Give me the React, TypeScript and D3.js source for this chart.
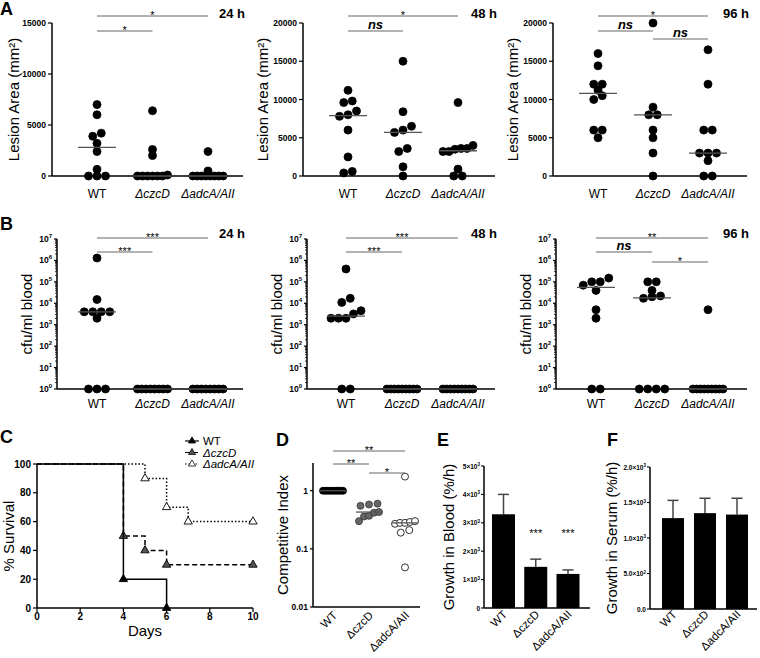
import React from 'react'
import * as d3 from 'd3'

const FONT = "'Liberation Sans', Arial, Helvetica, sans-serif"

const strains = ['WT', 'ΔczcD', 'ΔadcA/AII']

// A: lesion area (mm²) per mouse
const lesion24h = [
  [7000, 6000, 4200, 3900, 3200, 2400, 650, 0, 0, 0],
  [6400, 2600, 2000, 100, 0, 0, 0, 0, 0, 0],
  [2400, 500, 0, 0, 0, 0, 0, 0, 0, 0],
]
const lesion48h = [
  [11200, 9800, 9600, 8500, 8000, 7800, 6000, 2500, 600, 400],
  [15000, 8400, 6500, 6000, 5700, 3600, 3200, 1200, 0],
  [9600, 4000, 3600, 3600, 3500, 3200, 3200, 900, 0, 0],
]
const lesion96h = [
  [16000, 14400, 12000, 12000, 11200, 10500, 10000, 6000, 6000, 5000],
  [20000, 9000, 8000, 8000, 6000, 5000, 3000, 0],
  [16500, 12000, 6000, 6000, 3000, 3000, 3000, 2000, 0, 0],
]
const lesionMedian24h = [2800, 0, 0]
const lesionMedian48h = [7900, 5700, 3300]
const lesionMedian96h = [10800, 8000, 3000]
const lesionTicks15k = [0, 5000, 10000, 15000]
const lesionTicks20k = [0, 5000, 10000, 15000, 20000]

// B: cfu/ml blood
const blood24h = [
  [1.3e6, 1.5e4, 4e3, 4e3, 4e3, 4e3, 2e3, 1, 1, 1],
  [1, 1, 1, 1, 1, 1, 1, 1],
  [1, 1, 1, 1, 1, 1, 1, 1],
]
const blood48h = [
  [4e5, 1.7e4, 1.1e4, 4.5e3, 3.2e3, 2e3, 2e3, 2e3, 1, 1],
  [1, 1, 1, 1, 1, 1, 1, 1, 1],
  [1, 1, 1, 1, 1, 1, 1, 1, 1],
]
const blood96h = [
  [1.5e5, 1e5, 1e5, 7e4, 4e4, 5e3, 2e3, 1, 1],
  [1e5, 1e5, 4e4, 2.2e4, 2e4, 1.7e4, 1, 1, 1, 1],
  [5e3, 1, 1, 1, 1, 1, 1, 1, 1, 1],
]
const bloodMedian24h = [4000, 1, 1]
const bloodMedian48h = [2500, 1, 1]
const bloodMedian96h = [5.5e4, 1.8e4, 1]
const bloodExponents = [0, 1, 2, 3, 4, 5, 6, 7]

// significance bars: [from, to, row, label]
const sigLesion24h = [[0, 2, 0, '*'], [0, 1, 1, '*']]
const sigLesion48h = [[0, 2, 0, '*'], [0, 1, 1, 'ns']]
const sigLesion96h = [[0, 2, 0, '*'], [0, 1, 1, 'ns'], [1, 2, 2, 'ns']]
const sigBlood24h = [[0, 2, 0, '***'], [0, 1, 1, '***']]
const sigBlood48h = [[0, 2, 0, '***'], [0, 1, 1, '***']]
const sigBlood96h = [[0, 2, 0, '**'], [0, 1, 1, 'ns'], [1, 2, 2, '*']]
const sigCompetitive = [[0, 2, 0, '**'], [0, 1, 1, '**'], [1, 2, 2, '*']]

// C: survival
const dayTicks = [0, 2, 4, 6, 8, 10]
const survivalTicks = [0, 20, 40, 60, 80, 100]
const wtDays = [0, 4, 6]
const wtSurvival = [100, 20, 0]
const czcdDays = [0, 4, 5, 6, 10]
const czcdSurvival = [100, 50, 40, 30, 30]
const adcaDays = [0, 5, 6, 7, 10]
const adcaSurvival = [100, 90, 70, 60, 60]

// D: competitive index
const ciWT = [1, 1, 1, 1, 1, 1, 1, 1, 1, 1]
const ciCzcD = [0.6, 0.58, 0.55, 0.43, 0.42, 0.37, 0.36, 0.3]
const ciAdcA = [1.75, 0.3, 0.29, 0.28, 0.28, 0.27, 0.21, 0.19, 0.048]
const ciMedians = [1, 0.43, 0.28]
const ciTicks = [0.01, 0.1, 1]

// E / F: growth (%/h)
const bloodGrowth = [3300, 1450, 1200]
const bloodGrowthErr = [700, 270, 140]
const bloodGrowthStars = ['', '***', '***']
const serumGrowth = [1280, 1350, 1330]
const serumGrowthErr = [250, 210, 230]
const bloodGrowthTicks = [0, 1000, 2000, 3000, 4000, 5000]
const serumGrowthTicks = [0, 500, 1000, 1500, 2000]

// spread dots that sit at (nearly) the same height, like a column scatter
function swarm(values, y, maxWidth, step = 8.5, gap = 5) {
  const pts = values.map((v) => ({ v, py: y(v), dx: 0 })).sort((a, b) => b.py - a.py)
  const clusters = []
  pts.forEach((p) => {
    const last = clusters[clusters.length - 1]
    if (last && last[last.length - 1].py - p.py <= gap) last.push(p)
    else clusters.push([p])
  })
  clusters.forEach((c) => {
    const n = c.length
    const s = n > 1 ? Math.min(step, maxWidth / (n - 1)) : 0
    c.forEach((p, i) => (p.dx = (i - (n - 1) / 2) * s))
  })
  return pts
}

function SigBars({ sigs, x, rows }) {
  return (
    <g>
      {sigs.map(([a, b, row, label], i) => {
        const x1 = x(strains[a])
        const x2 = x(strains[b])
        const yy = rows[row]
        const ns = label === 'ns'
        return (
          <g key={i}>
            <line x1={x1} x2={x2} y1={yy} y2={yy} stroke="#666" strokeWidth={1} />
            <text
              x={(x1 + x2) / 2}
              y={ns ? yy - 2 : yy + 3}
              textAnchor="middle"
              fontSize={ns ? 13 : 11}
              fontWeight={ns ? 'bold' : 'normal'}
              fontStyle={ns ? 'italic' : 'normal'}
            >
              {label}
            </text>
          </g>
        )
      })}
    </g>
  )
}

function YTitle({ x, y, children, size = 15 }) {
  return (
    <text transform={`translate(${x},${y}) rotate(-90)`} textAnchor="middle" dy="0.35em" fontSize={size}>
      {children}
    </text>
  )
}

function ScatterPanel({
  axisX, endX, cats, y, ticks, minor = [], groups, medians, sigs, rows,
  hour, hourY, title, titleX, labelY, dots = ['#000', '#000', '#000'], strokes = ['#000', '#000', '#000'],
  r = 4, spread = 30, half = 19, rotated = false, tickLen = 4,
}) {
  const x = d3.scalePoint().domain(strains).range(cats)
  const [y0, y1] = y.range()
  return (
    <g>
      {ticks.map((t, i) => (
        <g key={i}>
          <line x1={axisX - tickLen} x2={axisX} y1={y(t.v)} y2={y(t.v)} stroke="#000" strokeWidth={1.2} />
          <text x={axisX - tickLen - 2} y={y(t.v) + 3} textAnchor="end" fontSize={8.5} fontWeight="bold">
            {t.label}
          </text>
        </g>
      ))}
      {minor.map((m, i) => (
        <line key={i} x1={axisX - 2} x2={axisX} y1={y(m)} y2={y(m)} stroke="#000" strokeWidth={0.8} />
      ))}
      <line x1={axisX} x2={axisX} y1={y0} y2={y1} stroke="#000" strokeWidth={1.5} />
      <line x1={axisX} x2={endX} y1={y0} y2={y0} stroke="#000" strokeWidth={1.5} />
      {groups.map((vals, gi) =>
        swarm(vals, y, spread).map((p, i) => (
          <circle key={`${gi}-${i}`} cx={x(strains[gi]) + p.dx} cy={p.py} r={r}
            fill={dots[gi]} stroke={strokes[gi]} strokeWidth={0.8} />
        ))
      )}
      {medians.map((m, i) => (
        <line key={i} x1={x(strains[i]) - half} x2={x(strains[i]) + half} y1={y(m)} y2={y(m)}
          stroke="#555" strokeWidth={1.3} />
      ))}
      <SigBars sigs={sigs} x={x} rows={rows} />
      {hour && (
        <text x={endX + 2} y={hourY} textAnchor="end" fontSize={13} fontWeight="bold">{hour}</text>
      )}
      <YTitle x={titleX} y={(y0 + y1) / 2}>{title}</YTitle>
      {strains.map((s, i) =>
        rotated ? (
          <text key={s} transform={`translate(${x(s) + 5},${labelY}) rotate(-45)`} textAnchor="end" fontSize={11.5}>
            {s}
          </text>
        ) : (
          <text key={s} x={x(s)} y={labelY} textAnchor="middle" fontSize={12} fontStyle={i === 0 ? 'normal' : 'italic'}>
            {s}
          </text>
        )
      )}
    </g>
  )
}

const lesionTickObjs = (ts) => ts.map((v) => ({ v, label: String(v) }))
const bloodTickObjs = bloodExponents.map((k) => ({
  v: Math.pow(10, k),
  label: (
    <>
      10<tspan dy={-4} fontSize={6}>{k}</tspan>
    </>
  ),
}))
const bloodMinor = bloodExponents.slice(0, -1).flatMap((k) => [2, 3, 4, 5, 6, 7, 8, 9].map((m) => m * Math.pow(10, k)))

function SurvivalPanel() {
  const x = d3.scaleLinear().domain([0, 10]).range([37, 253])
  const y = d3.scaleLinear().domain([0, 100]).range([608, 464])
  const line = d3.line().x((d) => x(d[0])).y((d) => y(d[1])).curve(d3.curveStepAfter)
  const tri = d3.symbol().type(d3.symbolTriangle).size(30)()
  const series = [
    { days: adcaDays, surv: adcaSurvival, dash: '1.5,2', fill: '#fff', name: 'ΔadcA/AII' },
    { days: czcdDays, surv: czcdSurvival, dash: '5,3', fill: '#555', name: 'ΔczcD' },
    { days: wtDays, surv: wtSurvival, dash: null, fill: '#000', name: 'WT' },
  ]
  const legend = [...series].reverse()
  return (
    <g>
      {series.map((s) => (
        <g key={s.name}>
          <path d={line(s.days.map((d, i) => [d, s.surv[i]]))} fill="none" stroke="#000"
            strokeWidth={1.5} strokeDasharray={s.dash || undefined} />
          {s.days.slice(1).map((d, i) => (
            <path key={i} d={tri} transform={`translate(${x(d)},${y(s.surv[i + 1])})`}
              fill={s.fill} stroke="#000" strokeWidth={0.9} />
          ))}
        </g>
      ))}
      <line x1={37} x2={37} y1={608} y2={464} stroke="#000" strokeWidth={1.5} />
      <line x1={37} x2={253} y1={608} y2={608} stroke="#000" strokeWidth={1.5} />
      {survivalTicks.map((t) => (
        <g key={t}>
          <line x1={33} x2={37} y1={y(t)} y2={y(t)} stroke="#000" strokeWidth={1.2} />
          <text x={31} y={y(t) + 3.5} textAnchor="end" fontSize={10} fontWeight="bold">{t}</text>
        </g>
      ))}
      {dayTicks.map((t) => (
        <g key={t}>
          <line x1={x(t)} x2={x(t)} y1={608} y2={612} stroke="#000" strokeWidth={1.2} />
          <text x={x(t)} y={620} textAnchor="middle" fontSize={10} fontWeight="bold">{t}</text>
        </g>
      ))}
      <text x={145} y={636} textAnchor="middle" fontSize={15}>Days</text>
      <YTitle x={9} y={536}>% Survival</YTitle>
      {legend.map((s, i) => (
        <g key={s.name} transform={`translate(0,${441 + i * 11.5})`}>
          <line x1={185} x2={199} y1={0} y2={0} stroke="#000" strokeWidth={1.2} strokeDasharray={s.dash || undefined} />
          <path d={tri} transform="translate(192,0) scale(0.85)" fill={s.fill} stroke="#000" strokeWidth={0.9} />
          <text x={203} y={4} fontSize={11.5} fontStyle={i === 0 ? 'normal' : 'italic'}>{s.name}</text>
        </g>
      ))}
    </g>
  )
}

function BarPanel({ axisX, endX, cats, y, ticks, tickLabel, values, errs, stars = [], title, titleX, barW }) {
  const x = d3.scalePoint().domain(strains).range(cats)
  const [y0, y1] = y.range()
  return (
    <g>
      {values.map((v, i) => {
        const cx = x(strains[i])
        return (
          <g key={i}>
            <line x1={cx} x2={cx} y1={y(v)} y2={y(v + errs[i])} stroke="#444" strokeWidth={1.5} />
            <line x1={cx - 5.5} x2={cx + 5.5} y1={y(v + errs[i])} y2={y(v + errs[i])} stroke="#444" strokeWidth={1.5} />
            <rect x={cx - barW / 2} y={y(v)} width={barW} height={y0 - y(v)} fill="#000" />
            {stars[i] && (
              <text x={cx} y={y(2500)} textAnchor="middle" fontSize={11}>{stars[i]}</text>
            )}
          </g>
        )
      })}
      {ticks.map((t) => (
        <g key={t}>
          <line x1={axisX - 3} x2={axisX} y1={y(t)} y2={y(t)} stroke="#000" strokeWidth={1.1} />
          <text x={axisX - 4} y={y(t) + 2.5} textAnchor="end" fontSize={6.5} fontWeight="bold">{tickLabel(t)}</text>
        </g>
      ))}
      <line x1={axisX} x2={axisX} y1={y0} y2={y1} stroke="#000" strokeWidth={1.5} />
      <line x1={axisX} x2={endX} y1={y0} y2={y0} stroke="#000" strokeWidth={1.5} />
      <YTitle x={titleX} y={(y0 + y1) / 2}>{title}</YTitle>
      {strains.map((s) => (
        <text key={s} transform={`translate(${x(s) + 4.5},${615}) rotate(-45)`} textAnchor="end" fontSize={11.5}>
          {s}
        </text>
      ))}
    </g>
  )
}

const sci = (m, k) => (
  <>
    {m}×10<tspan dy={-2.5} fontSize={4.5}>{k}</tspan>
  </>
)
const bloodTickLabel = (t) => (t === 0 ? '0' : sci(t / 1000, 3))
const serumTickLabel = (t) =>
  t === 0 ? '0.0' : t < 1000 ? sci((t / 100).toFixed(1), 2) : sci((t / 1000).toFixed(1), 3)

function Letter({ x, y, children }) {
  return <text x={x} y={y} fontSize={18} fontWeight="bold">{children}</text>
}

export default function App() {
  const lesion15 = d3.scaleLinear().domain([0, 15000]).range([176, 23])
  const lesion20 = d3.scaleLinear().domain([0, 20000]).range([176, 23])
  const blood = d3.scaleLog().domain([1, 1e7]).range([389, 239])
  const ci = d3.scaleLog().domain([0.01, 3]).range([607, 463])
  const growthBlood = d3.scaleLinear().domain([0, 5000]).range([608, 466])
  const growthSerum = d3.scaleLinear().domain([0, 2000]).range([609, 467])
  const aRows = [16, 31, 39]
  const bRows = [238, 252, 262]
  const lesionTitle = 'Lesion Area (mm²)'

  return (
    <svg width={760} height={658} fontFamily={FONT}
      style={{ position: 'absolute', left: 0, top: 0, background: '#fff' }}>
      <Letter x={0} y={15}>A</Letter>
      <ScatterPanel axisX={52} endX={243} cats={[97, 208]} y={lesion15} ticks={lesionTickObjs(lesionTicks15k)}
        groups={lesion24h} medians={lesionMedian24h} sigs={sigLesion24h} rows={aRows}
        hour="24 h" hourY={18} title={lesionTitle} titleX={14} labelY={198} />
      <ScatterPanel axisX={303} endX={495} cats={[348, 458]} y={lesion20} ticks={lesionTickObjs(lesionTicks20k)}
        groups={lesion48h} medians={lesionMedian48h} sigs={sigLesion48h} rows={aRows}
        hour="48 h" hourY={18} title={lesionTitle} titleX={263} labelY={198} />
      <ScatterPanel axisX={553} endX={747} cats={[598, 708]} y={lesion20} ticks={lesionTickObjs(lesionTicks20k)}
        groups={lesion96h} medians={lesionMedian96h} sigs={sigLesion96h} rows={aRows}
        hour="96 h" hourY={18} title={lesionTitle} titleX={513} labelY={198} />

      <Letter x={0} y={230}>B</Letter>
      <ScatterPanel axisX={57} endX={243} cats={[97, 208]} y={blood} ticks={bloodTickObjs} minor={bloodMinor} tickLen={3}
        groups={blood24h} medians={bloodMedian24h} sigs={sigBlood24h} rows={bRows}
        hour="24 h" hourY={238} title="cfu/ml blood" titleX={27} labelY={408} />
      <ScatterPanel axisX={307} endX={495} cats={[346, 458]} y={blood} ticks={bloodTickObjs} minor={bloodMinor} tickLen={3}
        groups={blood48h} medians={bloodMedian48h} sigs={sigBlood48h} rows={bRows}
        hour="48 h" hourY={238} title="cfu/ml blood" titleX={277} labelY={408} />
      <ScatterPanel axisX={556} endX={747} cats={[596, 708]} y={blood} ticks={bloodTickObjs} minor={bloodMinor} tickLen={3}
        groups={blood96h} medians={bloodMedian96h} sigs={sigBlood96h} rows={bRows}
        hour="96 h" hourY={238} title="cfu/ml blood" titleX={526} labelY={408} />

      <Letter x={0} y={443}>C</Letter>
      <SurvivalPanel />

      <Letter x={276} y={446}>D</Letter>
      <ScatterPanel axisX={313} endX={420} cats={[333, 405]} y={ci}
        ticks={ciTicks.map((v) => ({ v, label: String(v) }))} tickLen={3}
        groups={[ciWT, ciCzcD, ciAdcA]} medians={ciMedians} sigs={sigCompetitive} rows={[451, 464, 473]}
        title="Competitive Index" titleX={283} labelY={616} rotated
        dots={['#000', '#666', '#fff']} strokes={['#000', '#333', '#000']} r={3.5} spread={20} half={13} />

      <Letter x={437} y={446}>E</Letter>
      <BarPanel axisX={484} endX={590} cats={[503.5, 568]} y={growthBlood} ticks={bloodGrowthTicks}
        tickLabel={bloodTickLabel} values={bloodGrowth} errs={bloodGrowthErr} stars={bloodGrowthStars}
        title="Growth in Blood (%/h)" titleX={449} barW={23} />

      <Letter x={607} y={446}>F</Letter>
      <BarPanel axisX={650} endX={757} cats={[673, 737]} y={growthSerum} ticks={serumGrowthTicks}
        tickLabel={serumTickLabel} values={serumGrowth} errs={serumGrowthErr}
        title="Growth in Serum (%/h)" titleX={612} barW={22} />
    </svg>
  )
}
